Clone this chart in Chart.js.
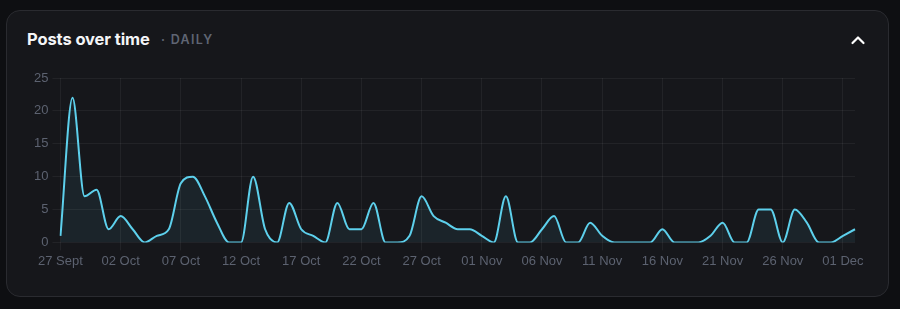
<!DOCTYPE html>
<html>
<head>
<meta charset="utf-8">
<script src="https://cdn.jsdelivr.net/npm/chart.js@4.4.1/dist/chart.umd.min.js"></script>
<style>
  html, body { margin: 0; padding: 0; background: #0e0f12; width: 900px; height: 309px; overflow: hidden; }
  .card { position: absolute; left: 6px; top: 10px; width: 881px; height: 285px; background: #16171b; border: 1px solid #2a2b30; border-radius: 14px; }
  .title { position: absolute; left: 20px; top: 18px; font-family: Inter, "Liberation Sans", sans-serif; font-weight: 700; font-size: 16.5px; color: #f4f5f7; letter-spacing: -0.1px; }
  .sub { position: absolute; left: 154px; top: 21px; font-family: Inter, "Liberation Sans", sans-serif; font-weight: 600; font-size: 12.5px; color: #5f6573; letter-spacing: 1.3px; }
  .chev { position: absolute; left: 843px; top: 23px; }
  .wrap { position: absolute; left: 0; top: 60px; width: 900px; height: 220px; }
</style>
</head>
<body>
<div class="card">
  <div class="title">Posts over time</div>
  <div class="sub">· DAILY</div>
  <svg class="chev" width="16" height="12" viewBox="0 0 16 12"><polyline points="2.5,9 8,3.5 13.5,9" fill="none" stroke="#ffffff" stroke-width="2.2" stroke-linecap="round" stroke-linejoin="round"/></svg>
</div>
<div class="wrap"><canvas id="c"></canvas></div>
<script>
const days = [
  "27 Sept","28 Sept","29 Sept","30 Sept","01 Oct","02 Oct","03 Oct","04 Oct","05 Oct","06 Oct",
  "07 Oct","08 Oct","09 Oct","10 Oct","11 Oct","12 Oct","13 Oct","14 Oct","15 Oct","16 Oct",
  "17 Oct","18 Oct","19 Oct","20 Oct","21 Oct","22 Oct","23 Oct","24 Oct","25 Oct","26 Oct",
  "27 Oct","28 Oct","29 Oct","30 Oct","31 Oct","01 Nov","02 Nov","03 Nov","04 Nov","05 Nov",
  "06 Nov","07 Nov","08 Nov","09 Nov","10 Nov","11 Nov","12 Nov","13 Nov","14 Nov","15 Nov",
  "16 Nov","17 Nov","18 Nov","19 Nov","20 Nov","21 Nov","22 Nov","23 Nov","24 Nov","25 Nov",
  "26 Nov","27 Nov","28 Nov","29 Nov","30 Nov","01 Dec","02 Dec"
];
const posts = [
  1,22,7,8,2,4,2,0,1,2,
  9,10,7,3,0,0,10,2,0,6,
  2,1,0,6,2,2,6,0,0,1,
  7,4,3,2,2,1,0,7,0,0,
  2,4,0,0,3,1,0,0,0,0,
  2,0,0,0,1,3,0,0,5,5,
  0,5,3,0,0,1,2
];
const yTicks = [0,5,10,15,20,25];
const labelEvery = 5;

new Chart(document.getElementById('c'), {
  type: 'line',
  data: {
    labels: days,
    datasets: [{
      data: posts,
      borderColor: '#5dd0ec',
      backgroundColor: 'rgba(93,208,236,0.07)',
      borderWidth: 2,
      fill: 'origin',
      pointRadius: 0,
      cubicInterpolationMode: 'monotone',
      tension: 0.4
    }]
  },
  options: {
    responsive: true,
    maintainAspectRatio: false,
    animation: false,
    layout: { padding: { left: 30, right: 45, top: 18, bottom: 8 } },
    plugins: { legend: { display: false }, tooltip: { enabled: false } },
    scales: {
      x: {
        grid: { color: 'rgba(255,255,255,0.055)', tickLength: 8 },
        border: { display: false },
        ticks: {
          autoSkip: false, maxRotation: 0, color: '#5c6270',
          font: { family: '"Liberation Sans", Helvetica, Arial, sans-serif', size: 13 },
          callback: function(v, i) { return i % labelEvery === 0 ? days[i] : null; }
        }
      },
      y: {
        min: yTicks[0], max: yTicks[yTicks.length - 1],
        afterBuildTicks: function(axis) { axis.ticks = yTicks.map(v => ({ value: v })); },
        grid: { color: 'rgba(255,255,255,0.055)', tickLength: 8 },
        border: { display: false },
        ticks: {
          color: '#5c6270', padding: 4,
          font: { family: '"Liberation Sans", Helvetica, Arial, sans-serif', size: 13 }
        }
      }
    }
  }
});
</script>
</body>
</html>
